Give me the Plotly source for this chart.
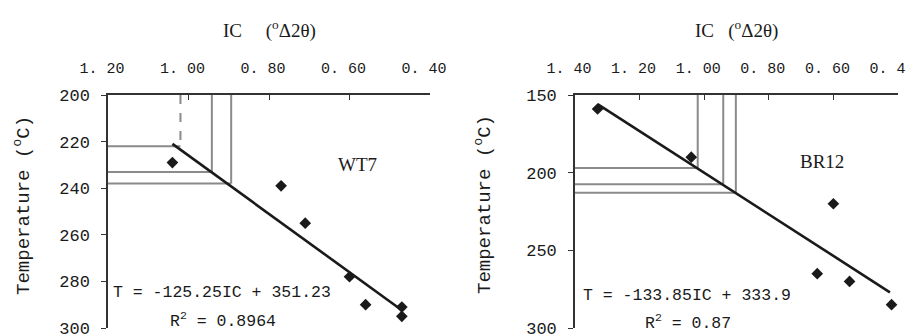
import plotly.graph_objects as go

# ---------------- data ----------------
# WT7 (left panel)
wt7_ic = [1.04, 0.77, 0.71, 0.60, 0.56, 0.47, 0.47]
wt7_t = [229, 239, 255, 278, 290, 291, 295]
wt7_fit = [-125.25, 351.23]          # slope, intercept
wt7_fit_ic = [1.04, 0.475]
wt7_ref_ic = [1.02, 0.942, 0.894]
wt7_ref_t = [222, 233, 238]

# BR12 (right panel)
br12_ic = [1.33, 1.04, 0.60, 0.65, 0.55, 0.42]
br12_t = [159, 190, 220, 265, 270, 285]
br12_fit = [-133.85, 333.9]
br12_fit_ic = [1.33, 0.425]
br12_ref_ic = [1.02, 0.941, 0.902]
br12_ref_t = [197, 207.5, 213]

wt7_xticks = [1.20, 1.00, 0.80, 0.60, 0.40]
wt7_xtext = ["1. 20", "1. 00", "0. 80", "0. 60", "0. 40"]
br12_xticks = [1.40, 1.20, 1.00, 0.80, 0.60, 0.40]
br12_xtext = ["1. 40", "1. 20", "1. 00", "0. 80", "0. 60", "0. 40"]
wt7_yticks = [200, 220, 240, 260, 280, 300]
br12_yticks = [150, 200, 250, 300]

WT7_XR = [1.20, 0.40]
WT7_YR = [300, 200]
BR12_XR = [1.40, 0.40]
BR12_YR = [300, 150]

MONO = "Liberation Mono"
SERIF = "Liberation Serif"
INK = "#1a1a1a"
GREY = "#8a8a8a"
NB = "\u00a0"

fig = go.Figure()


def add_panel(xa, ya, ic, t, fit, fit_ic, ref_ic, ref_t, xr, yr, dashed_first):
    # reference (grey) lines
    for i, (ri, rt) in enumerate(zip(ref_ic, ref_t)):
        dash = "dash" if (dashed_first and i == 0) else "solid"
        fig.add_trace(go.Scatter(x=[xr[0], ri], y=[rt, rt], mode="lines",
                                 line=dict(color=GREY, width=2),
                                 xaxis=xa, yaxis=ya, showlegend=False, hoverinfo="skip"))
        fig.add_trace(go.Scatter(x=[ri, ri], y=[yr[1], rt], mode="lines",
                                 line=dict(color=GREY, width=2, dash=dash),
                                 xaxis=xa, yaxis=ya, showlegend=False, hoverinfo="skip"))
    # regression line
    fy = [fit[0] * v + fit[1] for v in fit_ic]
    fig.add_trace(go.Scatter(x=fit_ic, y=fy, mode="lines",
                             line=dict(color=INK, width=2.6),
                             xaxis=xa, yaxis=ya, showlegend=False))
    # data points
    fig.add_trace(go.Scatter(x=ic, y=t, mode="markers",
                             marker=dict(symbol="diamond", size=9, color=INK),
                             xaxis=xa, yaxis=ya, showlegend=False))


add_panel("x", "y", wt7_ic, wt7_t, wt7_fit, wt7_fit_ic, wt7_ref_ic, wt7_ref_t,
          WT7_XR, WT7_YR, True)
add_panel("x2", "y2", br12_ic, br12_t, br12_fit, br12_fit_ic, br12_ref_ic, br12_ref_t,
          BR12_XR, BR12_YR, False)

xcommon = dict(side="top", showgrid=False, zeroline=False, showline=True,
               linecolor="#333", linewidth=1.5, ticks="inside", ticklen=5,
               tickcolor="#333", tickfont=dict(family=MONO, size=15, color=INK),
               ticklabelstandoff=14, ticklabelshift=6,
               ticklabeloverflow="allow", automargin=False)
ycommon = dict(showgrid=False, zeroline=False, showline=True, linecolor="#333",
               linewidth=1.5, ticks="outside", ticklen=5, tickcolor="#333",
               tickfont=dict(family=MONO, size=17, color=INK), ticklabelstandoff=8,
               ticklabeloverflow="allow", automargin=False)

fig.update_layout(
    width=914, height=336,
    margin=dict(l=100, r=24, t=87, b=16, autoexpand=False),
    paper_bgcolor="white", plot_bgcolor="white",
    xaxis=dict(domain=[0, 0.4076], range=WT7_XR, tickvals=wt7_xticks,
               ticktext=wt7_xtext, anchor="y", **xcommon),
    yaxis=dict(domain=[0, 1], range=WT7_YR, tickvals=wt7_yticks, anchor="x", **ycommon),
    xaxis2=dict(domain=[0.5911, 1], range=BR12_XR, tickvals=br12_xticks,
                ticktext=br12_xtext, anchor="y2", **xcommon),
    yaxis2=dict(domain=[0, 1], range=BR12_YR, tickvals=br12_yticks, anchor="x2", **ycommon),
)

ann = []
C = dict(xanchor="center", yanchor="middle", showarrow=False)
ann.append(dict(text="IC" + NB * 5 + "(<sup>o</sup>Δ2θ)", xref="x domain", yref="paper",
                x=0.5, y=1.283, font=dict(family=SERIF, size=19, color=INK), **C))
ann.append(dict(text="IC" + NB * 3 + "(<sup>o</sup>Δ2θ)", xref="x2 domain", yref="paper",
                x=0.5, y=1.283, font=dict(family=SERIF, size=19, color=INK), **C))
for xp in [-0.1076, 0.476]:
    ann.append(dict(text="Temperature (<sup>o</sup>C)", xref="paper", yref="paper",
                    x=xp, y=0.528, textangle=-90,
                    font=dict(family=MONO, size=19, color=INK), **C))
ann.append(dict(text="WT7", xref="x", yref="y", x=0.581, y=229.7,
                font=dict(family=SERIF, size=19, color=INK), **C))
ann.append(dict(text="BR12", xref="x2", yref="y2", x=0.635, y=193,
                font=dict(family=SERIF, size=19, color=INK), **C))
ann.append(dict(text="T = -125.25IC + 351.23", xref="x", yref="y", x=0.917, y=284.9,
                font=dict(family=MONO, size=16.5, color=INK), **C))
ann.append(dict(text="R<sup>2</sup> = 0.8964", xref="x", yref="y", x=0.914, y=296.6,
                font=dict(family=MONO, size=16.5, color=INK), **C))
ann.append(dict(text="T = -133.85IC + 333.9", xref="x2", yref="y2", x=1.052, y=278.8,
                font=dict(family=MONO, size=16.5, color=INK), **C))
ann.append(dict(text="R<sup>2</sup> = 0.87", xref="x2", yref="y2", x=1.05, y=296.2,
                font=dict(family=MONO, size=16.5, color=INK), **C))
fig.update_layout(annotations=ann)

fig.write_html("out.html")
